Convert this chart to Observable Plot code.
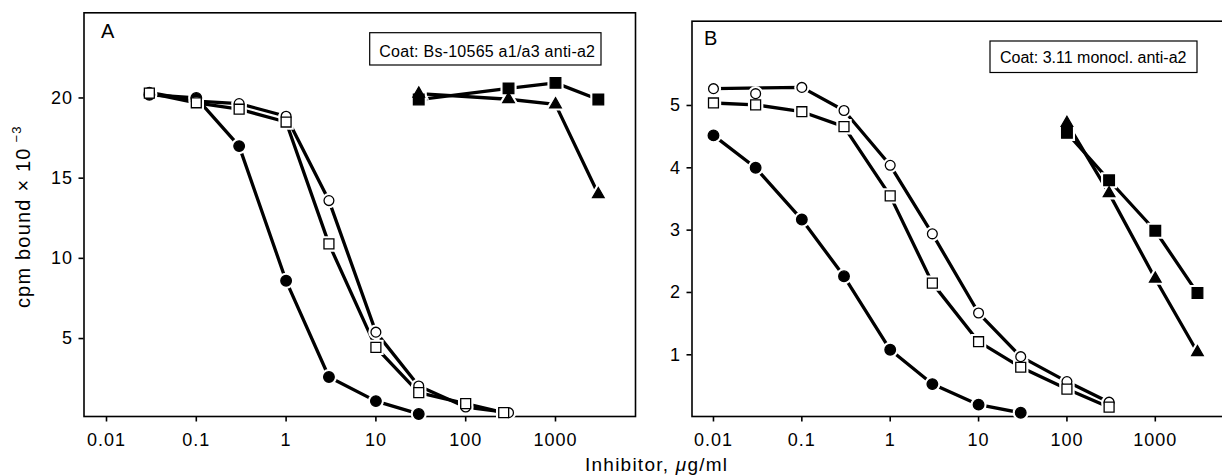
<!DOCTYPE html>
<html><head><meta charset="utf-8">
<script src="https://cdn.jsdelivr.net/npm/d3@7"></script>
<script src="https://cdn.jsdelivr.net/npm/@observablehq/plot@0.6"></script>
<style>
body{margin:0;background:#fff;}
#chart{position:relative;width:1222px;height:475px;overflow:hidden;background:#fff;}
#chart svg{position:absolute;top:0;}
</style></head><body><div id="chart"></div>
<script>
// ---------- DATA ----------
// x: inhibitor concentration (µg/ml); y: cpm bound × 10^-3
const xTickValues = [0.01, 0.1, 1, 10, 100, 1000];
const xTickLabels = ["0.01", "0.1", "1", "10", "100", "1000"];
const yTicksA = [5, 10, 15, 20];
const yTicksB = [1, 2, 3, 4, 5];

// Panel A (Coat: Bs-10565 a1/a3 anti-a2)
const aDoseFilledCircle = [0.03, 0.1, 0.3, 1, 3, 10, 30];
const aFilledCircle     = [20.2, 20.0, 17.0, 8.6, 2.6, 1.1, 0.3];
const aDoseOpenCircle   = [0.03, 0.1, 0.3, 1, 3, 10, 30, 100, 300];
const aOpenCircle       = [20.35, 19.8, 19.65, 18.86, 13.6, 5.4, 2.04, 0.73, 0.38];
const aDoseOpenSquare   = [0.03, 0.1, 0.3, 1, 3, 10, 30, 100, 265];
const aOpenSquare       = [20.3, 19.7, 19.3, 18.5, 10.9, 4.45, 1.63, 0.94, 0.38];
const aDoseHigh         = [30, 300, 1000, 3000];
const aFilledSquare     = [19.9, 20.6, 20.94, 19.9];
const aFilledTriangle   = [20.27, 19.92, 19.6, 14.0];

// Panel B (Coat: 3.11 monocl. anti-a2)
const bDoseOpen         = [0.01, 0.03, 0.1, 0.3, 1, 3, 10, 30, 100, 300];
const bOpenCircle       = [5.27, 5.19, 5.29, 4.92, 4.04, 2.94, 1.67, 0.97, 0.57, 0.24];
const bOpenCircleLineSkip = [0.03];
const bOpenSquare       = [5.04, 5.01, 4.9, 4.66, 3.55, 2.15, 1.21, 0.8, 0.45, 0.16];
const bDoseFilledCircle = [0.01, 0.03, 0.1, 0.3, 1, 3, 10, 30];
const bFilledCircle     = [4.52, 4.0, 3.17, 2.26, 1.08, 0.53, 0.2, 0.07];
const bDoseHigh         = [100, 300, 1000, 3000];
const bFilledSquare     = [4.56, 3.8, 2.99, 1.99];
const bFilledTriangle   = [4.72, 3.59, 2.22, 1.04];

// ---------- BUILD ----------
const rows = (xs, ys) => xs.map((x, i) => ({x, y: ys[i]}));
const symR = {circle: 5.3, square: 6, triangle: 4.3};
const openR = {circle: 4.9, square: 5.6};

const seriesA = [
  {data: rows(aDoseFilledCircle, aFilledCircle), symbol: "circle", filled: true},
  {data: rows(aDoseOpenCircle, aOpenCircle), symbol: "circle", filled: false},
  {data: rows(aDoseOpenSquare, aOpenSquare), symbol: "square", filled: false},
  {data: rows(aDoseHigh, aFilledSquare), symbol: "square", filled: true},
  {data: rows(aDoseHigh, aFilledTriangle), symbol: "triangle", filled: true}
];
const seriesB = [
  {data: rows(bDoseFilledCircle, bFilledCircle), symbol: "circle", filled: true},
  {data: rows(bDoseOpen, bOpenCircle), symbol: "circle", filled: false, skip: bOpenCircleLineSkip},
  {data: rows(bDoseOpen, bOpenSquare), symbol: "square", filled: false},
  {data: rows(bDoseHigh, bFilledSquare), symbol: "square", filled: true},
  {data: rows(bDoseHigh, bFilledTriangle), symbol: "triangle", filled: true}
];

const labelMap = new Map(xTickValues.map((v, i) => [v, xTickLabels[i]]));

function panel(series, o) {
  const marks = [
    Plot.frame({stroke: "black", strokeWidth: 1.6}),
    Plot.axisX({ticks: xTickValues, tickFormat: d => labelMap.get(d) ?? "", tickSize: 5.5, tickPadding: 11, strokeWidth: 1.6, label: null}),
    Plot.axisY({ticks: o.yTicks, tickFormat: d => String(d), tickSize: 5, tickPadding: 6, strokeWidth: 1.6, label: null})
  ];
  for (const s of series) {
    const lineData = s.skip ? s.data.filter(d => !s.skip.includes(d.x)) : s.data;
    marks.push(Plot.line(lineData, {x: "x", y: "y", stroke: "black", strokeWidth: 3.3}));
  }
  for (const s of series) {
    const r = s.filled ? symR[s.symbol] : openR[s.symbol];
    marks.push(Plot.dot(s.data, {x: "x", y: "y", symbol: s.symbol, r, fill: "white", stroke: "white", strokeWidth: 5.5}));
  }
  for (const s of series) {
    const r = s.filled ? symR[s.symbol] : openR[s.symbol];
    marks.push(Plot.dot(s.data, {x: "x", y: "y", symbol: s.symbol, r, fill: s.filled ? "black" : "white", stroke: "black", strokeWidth: 1.3}));
  }
  const p = Plot.plot({
    width: o.width, height: 450,
    marginLeft: o.ml, marginRight: o.mr, marginTop: o.mt, marginBottom: 34,
    x: {type: "log", domain: o.xDomain},
    y: {domain: o.yDomain},
    style: {fontFamily: "'Liberation Sans', Arial, Helvetica, sans-serif", fontSize: "18px", letterSpacing: "1px", color: "black", background: "none", overflow: "visible"},
    marks
  });
  p.style.left = o.left + "px";
  p.style.maxWidth = "none";
  return p;
}

const chart = document.getElementById("chart");
chart.appendChild(panel(seriesA, {
  left: 0, width: 640, ml: 83.5, mr: 5, mt: 12.3,
  xDomain: [Math.pow(10, -2.2506), Math.pow(10, 3.891)],
  yDomain: [0.14, 25.31], yTicks: yTicksA
}));
chart.appendChild(panel(seriesB, {
  left: 600, width: 640, ml: 91.5, mr: 10, mt: 20.7,
  xDomain: [Math.pow(10, -2.243), Math.pow(10, 3.851)],
  yDomain: [0.01, 6.352], yTicks: yTicksB
}));

// ---------- ANNOTATIONS ----------
const ov = d3.select(chart).append("svg")
  .attr("width", 1222).attr("height", 475)
  .style("left", "0px")
  .attr("font-family", "'Liberation Sans', Arial, Helvetica, sans-serif")
  .attr("fill", "black");

ov.append("text").attr("x", 101).attr("y", 38).attr("font-size", 20).text("A");
ov.append("text").attr("x", 704).attr("y", 44.5).attr("font-size", 20).text("B");

ov.append("rect").attr("x", 369.7).attr("y", 32.7).attr("width", 231.3).attr("height", 32.3)
  .attr("fill", "white").attr("stroke", "black").attr("stroke-width", 1.2);
ov.append("text").attr("x", 379.3).attr("y", 56.7).attr("font-size", 16)
  .attr("textLength", 215.7).attr("lengthAdjust", "spacing")
  .text("Coat: Bs-10565 a1/a3 anti-a2");

ov.append("rect").attr("x", 990).attr("y", 41).attr("width", 207).attr("height", 31.5)
  .attr("fill", "white").attr("stroke", "black").attr("stroke-width", 1.2);
ov.append("text").attr("x", 1000).attr("y", 62.5).attr("font-size", 16)
  .attr("textLength", 186.5).attr("lengthAdjust", "spacing")
  .text("Coat: 3.11 monocl. anti-a2");

const xl = ov.append("text").attr("x", 585).attr("y", 471).attr("font-size", 19)
  .attr("textLength", 142).attr("lengthAdjust", "spacing");
xl.append("tspan").text("Inhibitor, ");
xl.append("tspan").attr("font-style", "italic").text("μ");
xl.append("tspan").text("g/ml");

const yl = ov.append("text").attr("transform", "translate(30,216.7) rotate(-90)")
  .attr("text-anchor", "middle").attr("font-size", 20).attr("letter-spacing", "1.2px");
yl.append("tspan").text("cpm bound × 10");
yl.append("tspan").attr("font-size", 13).attr("dy", -9).text(" −3");
</script></body></html>
